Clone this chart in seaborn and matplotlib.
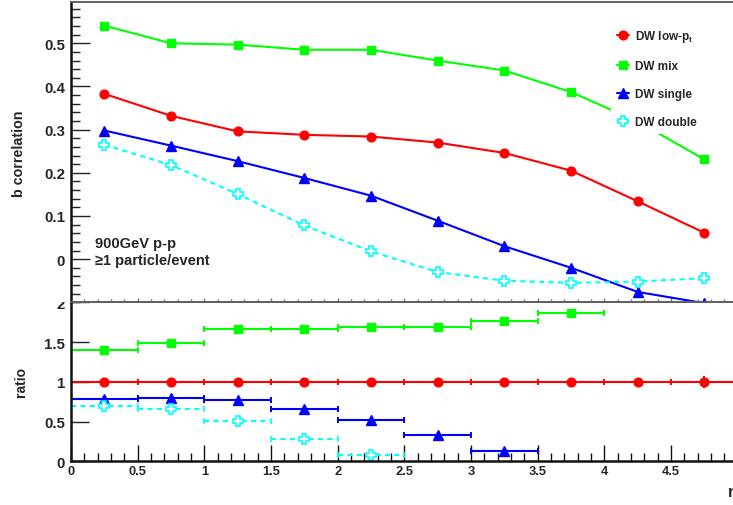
import numpy as np
import pandas as pd
import matplotlib
matplotlib.use("Agg")
import matplotlib.pyplot as plt
import seaborn as sns
from matplotlib.ticker import MultipleLocator, FixedLocator, NullFormatter
from matplotlib.patches import Rectangle

# ---------------- data ----------------
eta_centers = [0.25, 0.75, 1.25, 1.75, 2.25, 2.75, 3.25, 3.75, 4.25, 4.75]
bin_half_width = 0.25

series_names = ["DW low-p$_t$", "DW mix", "DW single", "DW double"]
dw_lowpt = [0.383, 0.332, 0.296, 0.288, 0.284, 0.270, 0.246, 0.205, 0.134, 0.061]
dw_mix = [0.541, 0.500, 0.497, 0.485, 0.485, 0.460, 0.437, 0.387, 0.319, 0.231]
dw_single = [0.298, 0.263, 0.227, 0.188, 0.147, 0.089, 0.030, -0.020, -0.076, -0.102]
dw_double = [0.265, 0.218, 0.151, 0.078, 0.018, -0.030, -0.050, -0.055, -0.052, -0.044]

# ratio to DW low-pt (only the bins visible inside the 0..2 range)
ratio_lowpt = [1.00, 1.00, 1.00, 1.00, 1.00, 1.00, 1.00, 1.00, 1.00, 1.00]
ratio_lowpt_err = [0, 0, 0, 0, 0, 0, 0, 0, 0, 0.075]
ratio_mix = [1.40, 1.49, 1.67, 1.67, 1.69, 1.69, 1.76, 1.87]
ratio_single = [0.78, 0.79, 0.77, 0.656, 0.518, 0.334, 0.133]
ratio_double = [0.69, 0.656, 0.506, 0.276, 0.075]

top_yticks = [0, 0.1, 0.2, 0.3, 0.4, 0.5]
top_yticklabels = ["0", "0.1", "0.2", "0.3", "0.4", "0.5"]
bot_yticks = [0, 0.5, 1, 1.5, 2]
bot_yticklabels = ["0", "0.5", "1", "1.5", "2"]
xticks = [0, 0.5, 1, 1.5, 2, 2.5, 3, 3.5, 4, 4.5, 5]
xticklabels = ["0", "0.5", "1", "1.5", "2", "2.5", "3", "3.5", "4", "4.5", ""]

# ---------------- style ----------------
sns.set_style("ticks")
plt.rcParams["font.family"] = ["Liberation Sans", "DejaVu Sans"]
plt.rcParams["font.weight"] = "bold"
plt.rcParams["mathtext.fontset"] = "custom"
plt.rcParams["mathtext.rm"] = "Liberation Sans:bold"
plt.rcParams["mathtext.it"] = "Liberation Sans:bold"
plt.rcParams["mathtext.bf"] = "Liberation Sans:bold"
plt.rcParams["mathtext.default"] = "bf"

colors = ["#ff0000", "#00ff00", "#0000ff", "#00ffff"]
markers = ["o", "s", "^", "P"]
msizes = [6.3, 6.3, 6.8, 7.0]
LW = 1.5
dash = (0, (2.5, 2.0))

W, H = 733, 506
fig = plt.figure(figsize=(W / 100, H / 100), dpi=100)

x0, x1 = 71.0, 737.7
ax2 = fig.add_axes([x0 / W, 1 - 462.3 / H, (x1 - x0) / W, (462.3 - 303.3) / H])
ax1 = fig.add_axes([x0 / W, 1 - 303.3 / H, (x1 - x0) / W, (303.3 - 3.3) / H])
ax2.set_zorder(0)
ax1.set_zorder(2)
# white cover of the upper pad (hides the upper half of the "2" label)
fig.patches.append(Rectangle((0, 1 - 303.3 / H), x0 / W - 0.002, 303.3 / H,
                             transform=fig.transFigure, facecolor="white",
                             edgecolor="none", zorder=1))

# ---------------- top panel ----------------
top_df = pd.DataFrame({"eta": eta_centers, "lowpt": dw_lowpt, "mix": dw_mix,
                       "single": dw_single, "double": dw_double})
for i, col in enumerate(["lowpt", "mix", "single", "double"]):
    kw = dict(color=colors[i], marker=markers[i], markersize=msizes[i],
              linewidth=LW, markeredgecolor=colors[i], markeredgewidth=1.0)
    if col == "double":
        kw.update(linestyle=dash, markerfacecolor="white", markeredgewidth=1.2)
    sns.lineplot(data=top_df, x="eta", y=col, ax=ax1, errorbar=None,
                 label=series_names[i], **kw)

ax1.set_xlim(0, 5)
ax1.set_ylim(-0.1, 0.595)
ax1.set_yticks(top_yticks)
ax1.set_yticklabels(top_yticklabels)
ax1.yaxis.set_minor_locator(MultipleLocator(0.02))
ax1.xaxis.set_major_locator(MultipleLocator(0.5))
ax1.xaxis.set_minor_locator(MultipleLocator(0.1))
ax1.xaxis.set_major_formatter(NullFormatter())
ax1.set_xlabel("")
ax1.set_ylabel("")
ax1.tick_params(axis="y", which="major", direction="in", length=13.5, width=1.0,
                color="#222222", labelsize=10.8, pad=4.3)
ax1.tick_params(axis="y", which="minor", direction="in", length=6.8, width=1.0,
                color="#222222")
ax1.tick_params(axis="x", which="major", direction="in", length=3.0, width=1.0,
                color="#777777")
ax1.tick_params(axis="x", which="minor", direction="in", length=2.0, width=1.0,
                color="#777777")
for lbl in ax1.get_yticklabels():
    lbl.set_fontweight("bold")

ax1.spines["left"].set_color("#111111")
ax1.spines["left"].set_linewidth(1.8)
for s in ["top", "bottom", "right"]:
    ax1.spines[s].set_color("#606060")
    ax1.spines[s].set_linewidth(1.4)

leg = ax1.legend(loc="upper left", bbox_to_anchor=(611 / W, 1 - 23 / H),
                 bbox_transform=fig.transFigure, borderaxespad=0, borderpad=0.5,
                 frameon=True, fancybox=False, facecolor="white", edgecolor="none",
                 framealpha=1.0, handlelength=1.0, handletextpad=0.5,
                 labelspacing=1.37, prop={"weight": "bold", "size": 8.5})

fig.text(95 / W, 1 - 248.5 / H, "900GeV p-p", fontsize=10.5, fontweight="bold",
         ha="left", va="baseline")
fig.text(95 / W, 1 - 265.5 / H, "\u22651 particle/event", fontsize=10.5,
         fontweight="bold", ha="left", va="baseline")
fig.text(19 / W, 1 - 153.5 / H, "b correlation", rotation=90, fontsize=10.3,
         fontweight="bold", ha="center", va="center")

# ---------------- ratio panel ----------------
ratios = [ratio_lowpt, ratio_mix, ratio_single, ratio_double]
for i, r in enumerate(ratios):
    xs = eta_centers[:len(r)]
    kw = dict(fmt=markers[i], color=colors[i], markersize=msizes[i],
              markeredgecolor=colors[i], elinewidth=LW, capsize=1.9, capthick=1.4)
    if i == 3:
        kw.update(markerfacecolor="white", markeredgewidth=1.2)
    cont = ax2.errorbar(xs, r, xerr=bin_half_width, **kw)
    if i == 3:
        for lc in cont[2]:
            lc.set_linestyle(dash)
    if i == 0:
        ax2.errorbar(xs, r, yerr=ratio_lowpt_err, fmt="none", ecolor=colors[0],
                     elinewidth=LW, capsize=0)

ax2.set_xlim(0, 5)
ax2.set_ylim(0, 2)
ax2.set_yticks(bot_yticks)
ax2.set_yticklabels(bot_yticklabels)
ax2.set_xticks(xticks)
ax2.set_xticklabels(xticklabels)
ax2.xaxis.set_minor_locator(MultipleLocator(0.1))
ax2.tick_params(axis="y", which="major", direction="in", length=13.0, width=1.0,
                color="#222222", labelsize=10.8, pad=4.3)
ax2.tick_params(axis="x", which="major", direction="in", length=11.3, width=1.0,
                color="#111111", labelsize=9.3, pad=3.0)
ax2.tick_params(axis="x", which="minor", direction="in", length=5.8, width=1.0,
                color="#111111")
for lbl in ax2.get_xticklabels() + ax2.get_yticklabels():
    lbl.set_fontweight("bold")
ax2.spines["left"].set_color("#111111")
ax2.spines["left"].set_linewidth(1.8)
ax2.spines["bottom"].set_color("#111111")
ax2.spines["bottom"].set_linewidth(1.8)
for s in ["top", "right"]:
    ax2.spines[s].set_color("#606060")
    ax2.spines[s].set_linewidth(1.4)

fig.text(20.5 / W, 1 - 382.5 / H, "ratio", rotation=90, fontsize=10,
         fontweight="bold", ha="center", va="center")
fig.text(727 / W, 1 - 497 / H, "\u03b7", fontsize=12, fontweight="bold",
         ha="left", va="baseline")

fig.savefig("out.png", dpi=100)
